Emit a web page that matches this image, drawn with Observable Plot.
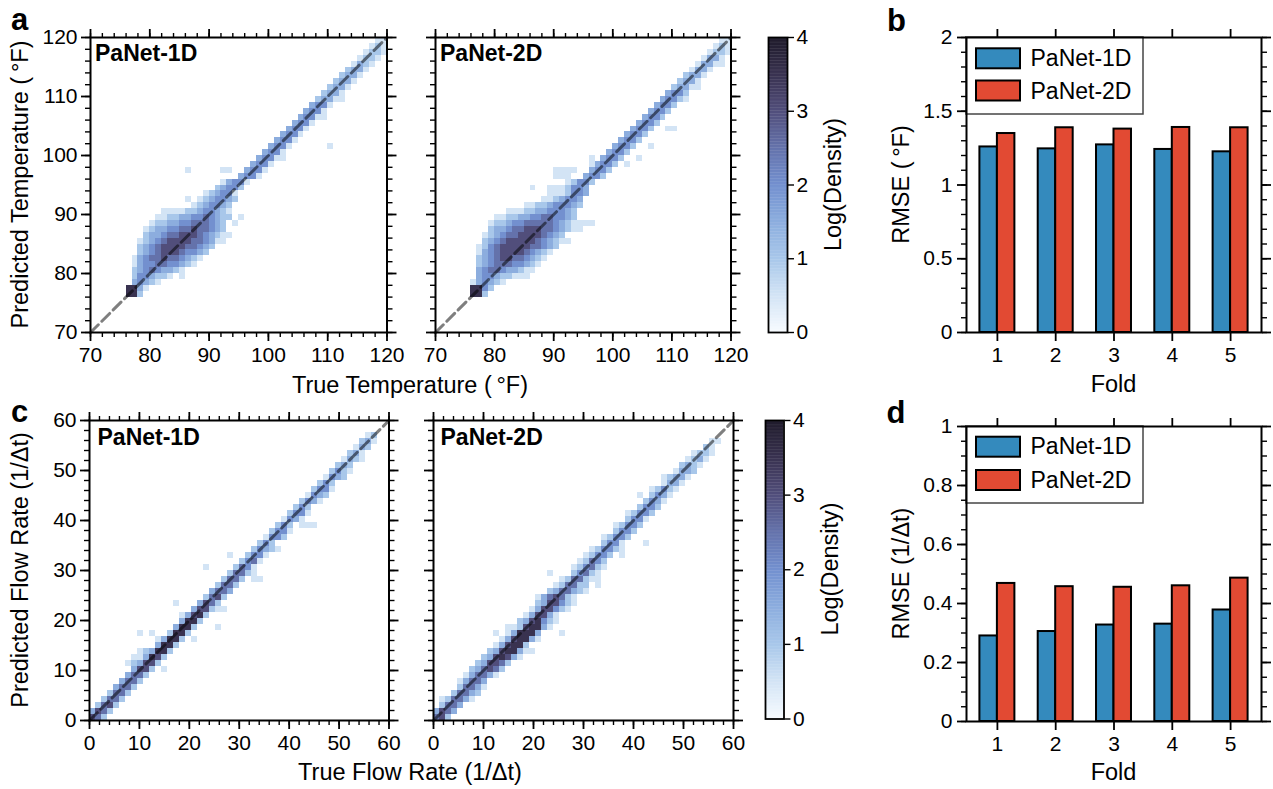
<!DOCTYPE html>
<html><head><meta charset="utf-8">
<script src="https://cdn.jsdelivr.net/npm/d3@7"></script>
<script src="https://cdn.jsdelivr.net/npm/@observablehq/plot@0.6"></script>
<style>
body{margin:0;background:#fff;}
#fig{position:relative;width:1273px;height:789px;overflow:hidden;background:#fff;}
#fig svg{position:absolute;overflow:visible;}
</style></head><body><div id="fig"></div>
<script>
// ---------------- data ----------------
const models = ["PaNet-1D", "PaNet-2D"];
const foldIds = [1, 2, 3, 4, 5];
const tempRmse1D = [1.258, 1.245, 1.272, 1.241, 1.225];
const tempRmse2D = [1.349, 1.388, 1.379, 1.390, 1.388];
const flowRmse1D = [0.290, 0.305, 0.327, 0.330, 0.378];
const flowRmse2D = [0.468, 0.457, 0.455, 0.460, 0.486];

const tempTicks = [70, 80, 90, 100, 110, 120];
const flowTicks = [0, 10, 20, 30, 40, 50, 60];
const rmseTempTicks = [0, 0.5, 1, 1.5, 2];
const rmseFlowTicks = [0, 0.2, 0.4, 0.6, 0.8, 1];
const densityTicks = [0, 1, 2, 3, 4];

// 2D histogram cells: "row col0 codes" (code*0.5 = log density, "." empty)
const tempBin = 1;   // rows/cols given in °F
const flowBin = 1.2; // rows/cols given as bin index
const tempGrid1D = [
"119 118 11","118 117 121","117 116 1221","116 115 1221","115 114 1321","114 113 2331",
"113 112 2331","112 111 2331","111 110 2331","110 109 2331","109 108 23311","108 107 3441",
"107 106 3441","106 105 34411","105 104 3441","104 103 3441","103 102 3441","102 101 3441",
"101 100 3441......1","100 99 3441","99 98 34411","98 97 3441","97 86 1.....11..3441","96 95 3441",
"95 92 13441","94 91 23442","93 89 123441","92 86 1.1234432","91 87 1234432","90 82 111122344321",
"89 81 1122334454322.1","88 80 1223344555432.1","87 79 12334455655432","86 79 233455666543211",
"85 78 123456666554311","84 78 2345666655432","83 78 234566654432","82 77 134556554321",
"81 77 13445544321","80 77 234543321","79 77 2443221.1","78 77 34321","77 76 7731","76 76 772"
];
const tempGrid2D = [
"119 118 11","118 117 121","117 116 1221","116 115 1331","115 114 13311","114 113 1331",
"113 112 2331","112 111 2331","111 110 23311","110 109 3442","109 108 34421","108 107 3442",
"107 106 3442","106 105 3442","105 104 3442","104 103 3442..11","103 102 3442","102 101 3442",
"101 100 3442..1","100 99 3442","99 96 1.3442..1","98 96 13442.1","97 90 1111..3442","96 90 111..3442",
"95 92 12442","94 86 1..1112443","93 89 1112443","92 88 1123443","91 85 1122344432","90 82 111223344432",
"89 80 11223344554432","88 79 122344555554321111","87 79 2334556665543211","86 78 12345566665432",
"85 78 234566666543211","84 77 12456666655432","83 77 1345666654321","82 77 234566554321",
"81 77 23455544321","80 77 3455433211","79 77 344322111","78 76 134321","77 76 7742","76 76 772"
];
const flowGrid1D = [
"47 46 12","46 45 231","45 44 132","44 43 231","43 42 1321","42 41 232","41 40 2421","40 39 1432",
"39 38 242","38 37 2441","37 36 1432","36 35 2431","35 34 242","34 33 2441","33 32 1431",
"32 31 242.111","31 30 2441","30 29 1442","29 28 242","28 27 24321","27 23 1..2441","26 25 2451",
"25 19 1....2541","24 23 25521","23 22 2552.11","22 21 2552","21 20 3553","20 19 2562",
"19 14 1...3652","18 17 366211","17 15 13672","16 15 3772","15 14 3772...1","14 8 1.1..2772",
"13 11 13772.1","12 11 3772","11 8 123772","10 7 113762","9 6 123662","8 7 3662.1","7 6 3552",
"6 5 3552","5 4 3552","4 3 2552","3 2 2552","2 1 2562","1 0 3652","0 0 652"
];
const flowGrid2D = [
"46 46 11","45 45 21","44 43 1221","43 42 1231","42 41 2321","41 40 1332","40 38 12331","39 38 1331",
"38 36 12421","37 34 1.2431","36 35 2431","35 34 2442","34 32 12442","33 32 2441","32 30 12442",
"31 30 2442","30 28 12442","29 28 2441...1","28 26 124421","27 25 12442.1","26 24 12542","25 23 124521",
"24 19 1...24521","23 21 1255211","22 20 125522.1","21 19 2355321","20 17 1356521","19 17 2366421",
"18 16 1366421","17 15 136631","16 14 2367421","15 12 11267731","14 10 1.137773...1","13 11 1367731",
"12 10 136772","11 9 23677311","10 8 2367631","9 7 236652","8 6 235652","7 5 135531","6 4 13553",
"5 4 25531","4 3 25532","3 1 125531","2 1 2553","1 0 3653","0 0 562"
];

const cmapStops = [0, 0.5, 1, 1.5, 2, 2.5, 3, 3.5, 4];
const cmapColors = ["#f7fbff","#d3e4f5","#a8c7ea","#8cadde","#7390cf","#6472ab","#514e7b","#393250","#1e1a2a"];
const barColors = ["#348ABD", "#E24A33"];

// ---------------- helpers ----------------
const FONT = '"Liberation Sans", Arial, Helvetica, sans-serif';
const fig = document.getElementById("fig");
const levelStep = 0.5;

function parseGrid(rows, bin) {
  const cells = [];
  rows.forEach(r => {
    const [ys, xs, codes] = r.split(" ");
    const yi = +ys, x0 = +xs;
    Array.from(codes).forEach((c, k) => {
      if (c === ".") return;
      const xi = x0 + k;
      cells.push({x1: xi * bin, x2: (xi + 1) * bin, y1: yi * bin, y2: (yi + 1) * bin, v: (+c) * levelStep});
    });
  });
  return cells;
}

const none = () => "";
function ax(fn, ticks, anchor, size, fmt, pad) {
  return fn({ticks, anchor, tickSize: size, tickPadding: pad ?? 4, tickFormat: fmt,
    strokeWidth: size > 6 ? 1.8 : 1.4, label: null, fontSize: 21});
}

function place(plot, L, T, mL, mT) {
  plot.style.left = (L - mL) + "px";
  plot.style.top = (T - mT) + "px";
  fig.appendChild(plot);
}

const baseStyle = {fontFamily: FONT, fontSize: "21px", background: "transparent", overflow: "visible", color: "black"};

function heatPanel(grid, bin, ticks, minorStep, showY, L, T, W, H) {
  const mL = 70, mR = 20, mT = 20, mB = 45;
  const dom = [ticks[0], ticks[ticks.length - 1]];
  const minors = d3.range(dom[0], dom[1] + 0.001, minorStep);
  const p = Plot.plot({
    width: W + mL + mR, height: H + mT + mB,
    marginLeft: mL, marginRight: mR, marginTop: mT, marginBottom: mB,
    x: {domain: dom, label: null}, y: {domain: dom, label: null},
    color: {type: "linear", domain: cmapStops, range: cmapColors, clamp: true},
    style: baseStyle,
    marks: [
      Plot.rect(parseGrid(grid, bin), {x1: "x1", x2: "x2", y1: "y1", y2: "y2", fill: "v", shapeRendering: "crispEdges"}),
      Plot.line(dom, {x: d => d, y: d => d, stroke: "black", strokeOpacity: 0.5, strokeWidth: 3, strokeDasharray: "11,5"}),
      ax(Plot.axisX, ticks, "bottom", 9, d => String(d), 6),
      ax(Plot.axisX, minors, "bottom", 5, none),
      ax(Plot.axisX, ticks, "top", 9, none),
      ax(Plot.axisX, minors, "top", 5, none),
      ax(Plot.axisY, ticks, "left", 9, showY ? (d => String(d)) : none, 4),
      ax(Plot.axisY, minors, "left", 5, none),
      ax(Plot.axisY, ticks, "right", 9, none),
      ax(Plot.axisY, minors, "right", 5, none),
      Plot.frame({strokeWidth: 2})
    ]
  });
  place(p, L, T, mL, mT);
}

function colorbar(L, T, W, H) {
  const mL = 10, mR = 40, mT = 15, mB = 15;
  const steps = d3.range(0, 4, 0.02);
  const p = Plot.plot({
    width: W + mL + mR, height: H + mT + mB,
    marginLeft: mL, marginRight: mR, marginTop: mT, marginBottom: mB,
    x: {domain: [0, 1], axis: null}, y: {domain: [0, 4], label: null},
    color: {type: "linear", domain: cmapStops, range: cmapColors, clamp: true},
    style: baseStyle,
    marks: [
      Plot.rect(steps, {x1: 0, x2: 1, y1: d => d, y2: d => d + 0.025, fill: d => d + 0.0125, clip: true}),
      ax(Plot.axisY, densityTicks, "right", 6, d => String(d), 3),
      Plot.frame({strokeWidth: 1.8})
    ]
  });
  place(p, L, T, mL, mT);
}

function barPanel(v1, v2, yTicks, yMinorStep, L, T, W, H) {
  const mL = 70, mR = 20, mT = 20, mB = 45;
  const barW = 0.3, xPad = 0.53;
  const data = foldIds.flatMap((f, i) => [
    {fold: f, model: models[0], x1: f - barW, x2: f, v: v1[i]},
    {fold: f, model: models[1], x1: f, x2: f + barW, v: v2[i]}
  ]);
  const yDom = [yTicks[0], yTicks[yTicks.length - 1]];
  const minors = d3.range(yDom[0], yDom[1] + 1e-6, yMinorStep);
  const p = Plot.plot({
    width: W + mL + mR, height: H + mT + mB,
    marginLeft: mL, marginRight: mR, marginTop: mT, marginBottom: mB,
    x: {domain: [foldIds[0] - xPad, foldIds[foldIds.length - 1] + xPad], label: null},
    y: {domain: yDom, label: null},
    color: {domain: models, range: barColors},
    style: baseStyle,
    marks: [
      Plot.rect(data, {x1: "x1", x2: "x2", y1: 0, y2: "v", fill: "model", stroke: "black", strokeWidth: 2}),
      ax(Plot.axisX, foldIds, "bottom", 9, d => String(d), 6),
      ax(Plot.axisX, foldIds, "top", 9, none),
      ax(Plot.axisY, yTicks, "left", 9, d => String(d), 5),
      ax(Plot.axisY, minors, "left", 5, none),
      ax(Plot.axisY, yTicks, "right", 9, none),
      ax(Plot.axisY, minors, "right", 5, none),
      Plot.frame({strokeWidth: 2})
    ]
  });
  place(p, L, T, mL, mT);
}

// ---------------- under layer: legends ----------------
const under = d3.select(fig).append("svg").attr("width", 1273).attr("height", 789)
  .style("left", "0px").style("top", "0px").attr("font-family", FONT);
function legend(x, y, patchYs, textYs) {
  under.append("rect").attr("x", x).attr("y", y).attr("width", 177).attr("height", 77)
    .attr("fill", "white").attr("stroke", "#444").attr("stroke-width", 1.5);
  models.forEach((m, i) => {
    under.append("rect").attr("x", x + 10).attr("y", patchYs[i]).attr("width", 44).attr("height", 20)
      .attr("fill", barColors[i]).attr("stroke", "black").attr("stroke-width", 2);
    under.append("text").attr("x", x + 64.5).attr("y", textYs[i]).attr("font-size", 23).text(m);
  });
}
legend(966, 37, [48.3, 80.5], [65.5, 98.5]);
legend(966, 426, [436.7, 470], [454, 487.5]);

// ---------------- plots ----------------
heatPanel(tempGrid1D, tempBin, tempTicks, 2, true, 90, 37, 296.5, 295);
heatPanel(tempGrid2D, tempBin, tempTicks, 2, false, 435, 37, 295.5, 295);
heatPanel(flowGrid1D, flowBin, flowTicks, 2, true, 88.5, 420, 299.5, 300);
heatPanel(flowGrid2D, flowBin, flowTicks, 2, false, 432.5, 420, 300, 300);
colorbar(768, 37, 19, 295);
colorbar(765, 420, 18.5, 298.5);
barPanel(tempRmse1D, tempRmse2D, rmseTempTicks, 0.1, 966, 37, 295, 295);
barPanel(flowRmse1D, flowRmse2D, rmseFlowTicks, 0.05, 966, 426, 295, 295);

// ---------------- over layer: text ----------------
const over = d3.select(fig).append("svg").attr("width", 1273).attr("height", 789)
  .style("left", "0px").style("top", "0px").style("pointer-events", "none").attr("font-family", FONT);
function txt(x, y, s, size, opts = {}) {
  const t = over.append("text").attr("x", x).attr("y", y).attr("font-size", size).text(s);
  if (opts.bold) t.attr("font-weight", "bold");
  if (opts.anchor) t.attr("text-anchor", opts.anchor);
  return t;
}
function vtxt(x, y, s, size) {
  over.append("text").attr("transform", `translate(${x},${y}) rotate(-90)`)
    .attr("text-anchor", "middle").attr("font-size", size).text(s);
}
txt(11, 30, "a", 31, {bold: true});
txt(887, 31, "b", 31, {bold: true});
txt(11, 422, "c", 31, {bold: true});
txt(886.5, 423, "d", 31, {bold: true});
txt(95, 61, "PaNet-1D", 23, {bold: true});
txt(440, 61, "PaNet-2D", 23, {bold: true});
txt(97.5, 445, "PaNet-1D", 23, {bold: true});
txt(440.5, 445, "PaNet-2D", 23, {bold: true});
txt(410, 393, "True Temperature (\u2009°F)", 23.5, {anchor: "middle"});
txt(410, 780, "True Flow Rate (1/Δt)", 23.5, {anchor: "middle"});
txt(1113.5, 392, "Fold", 23.5, {anchor: "middle"});
txt(1113.5, 780, "Fold", 23.5, {anchor: "middle"});
vtxt(28, 184.5, "Predicted Temperature (\u2009°F)", 23.5);
vtxt(28, 570, "Predicted Flow Rate (1/Δt)", 23.5);
vtxt(909, 184.5, "RMSE (\u2009°F)", 23.5);
vtxt(909, 573.5, "RMSE (1/Δt)", 23.5);
vtxt(841, 184.5, "Log(Density)", 23.5);
vtxt(837.5, 569, "Log(Density)", 23.5);
</script></body></html>
